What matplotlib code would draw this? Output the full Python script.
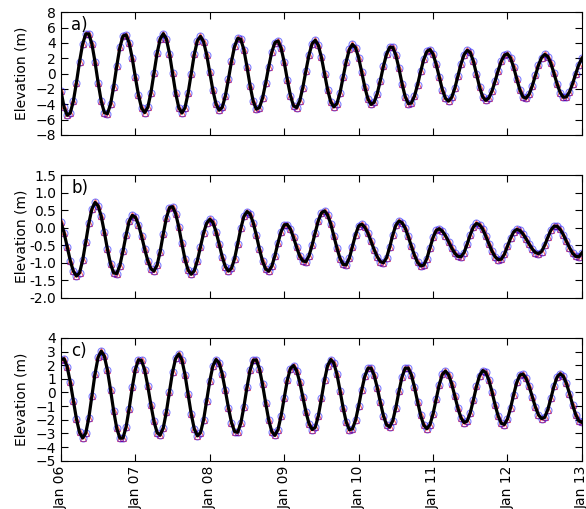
import numpy as np
import pandas as pd
import matplotlib
matplotlib.use("Agg")
import matplotlib.pyplot as plt
import matplotlib.dates as mdates

# hourly elevations (m), Jan 06 00:00 -> Jan 13 00:00
elev_a = [
    -2.23, -4.37, -5.44, -5.16, -3.61, -1.17, 1.55, 3.86, 5.18, 5.17, 3.83, 1.49,
    -1.23, -3.63, -5.10, -5.23, -4.00, -1.72, 0.99, 3.41, 4.89, 5.05, 3.99, 1.99,
    -0.48, -2.82, -4.50, -5.10, -4.41, -2.53, 0.05, 2.63, 4.51, 5.20, 4.51, 2.61,
    0.03, -2.56, -4.46, -5.15, -4.46, -2.57, -0.02, 2.50, 4.29, 4.85, 4.14, 2.44,
    0.15, -2.18, -3.96, -4.78, -4.42, -2.96, -0.77, 1.60, 3.56, 4.60, 4.46, 3.10,
    0.87, -1.59, -3.62, -4.64, -4.44, -3.22, -1.29, 0.89, 2.82, 4.04, 4.25, 3.32,
    1.48, -0.79, -2.87, -4.21, -4.45, -3.58, -1.82, 0.37, 2.45, 3.90, 4.35, 3.69,
    2.11, 0.00, -2.11, -3.69, -4.35, -3.91, -2.50, -0.49, 1.57, 3.14, 3.80, 3.38,
    2.07, 0.18, -1.79, -3.32, -4.03, -3.75, -2.62, -0.91, 0.96, 2.53, 3.43, 3.42,
    2.41, 0.67, -1.32, -3.00, -3.91, -3.85, -2.95, -1.47, 0.27, 1.84, 2.88, 3.13,
    2.53, 1.21, -0.48, -2.11, -3.24, -3.60, -3.11, -1.94, -0.36, 1.24, 2.47, 3.03,
    2.75, 1.61, -0.05, -1.76, -3.03, -3.50, -3.18, -2.29, -1.01, 0.39, 1.61, 2.39,
    2.58, 2.02, 0.81, -0.71, -2.13, -3.05, -3.22, -2.68, -1.60, -0.23, 1.10, 2.09,
    2.50, 2.22, 1.32, 0.03, -1.36, -2.49, -3.09, -3.04, -2.40, -1.32, -0.04, 1.16,
    2.00,
]

elev_b = [
    0.16, -0.14, -0.54, -0.94, -1.24, -1.38, -1.29, -0.93, -0.41, 0.13, 0.54, 0.72,
    0.62, 0.32, -0.13, -0.62, -1.04, -1.29, -1.31, -1.08, -0.67, -0.21, 0.18, 0.35,
    0.30, 0.09, -0.24, -0.61, -0.94, -1.17, -1.24, -1.07, -0.68, -0.18, 0.28, 0.57,
    0.60, 0.40, 0.02, -0.45, -0.90, -1.21, -1.33, -1.23, -0.94, -0.55, -0.15, 0.13,
    0.24, 0.15, -0.11, -0.46, -0.83, -1.11, -1.24, -1.16, -0.88, -0.46, -0.02, 0.32,
    0.46, 0.39, 0.14, -0.21, -0.61, -0.95, -1.18, -1.24, -1.10, -0.80, -0.43, -0.11,
    0.08, 0.09, -0.04, -0.28, -0.56, -0.81, -0.95, -0.97, -0.80, -0.50, -0.14, 0.20,
    0.42, 0.48, 0.36, 0.11, -0.23, -0.58, -0.88, -1.05, -1.06, -0.87, -0.54, -0.20,
    0.05, 0.10, 0.01, -0.16, -0.39, -0.63, -0.83, -0.97, -1.00, -0.86, -0.56, -0.21,
    0.07, 0.19, 0.14, -0.01, -0.25, -0.53, -0.79, -0.99, -1.09, -1.07, -0.88, -0.58,
    -0.28, -0.08, -0.03, -0.10, -0.23, -0.40, -0.58, -0.73, -0.82, -0.83, -0.71, -0.47,
    -0.20, 0.02, 0.12, 0.08, -0.04, -0.24, -0.46, -0.67, -0.83, -0.91, -0.90, -0.76,
    -0.53, -0.30, -0.12, -0.05, -0.08, -0.18, -0.32, -0.47, -0.61, -0.71, -0.74, -0.68,
    -0.50, -0.28, -0.07, 0.04, 0.04, -0.05, -0.20, -0.39, -0.57, -0.73, -0.82, -0.83,
    -0.72,
]

elev_c = [
    2.41, 2.48, 1.89, 0.77, -0.61, -1.95, -2.93, -3.34, -2.98, -1.84, -0.23, 1.39,
    2.59, 3.03, 2.66, 1.63, 0.18, -1.35, -2.63, -3.35, -3.34, -2.54, -1.19, 0.37,
    1.69, 2.40, 2.35, 1.65, 0.48, -0.89, -2.12, -2.94, -3.13, -2.60, -1.43, 0.07,
    1.51, 2.51, 2.83, 2.39, 1.32, -0.11, -1.56, -2.68, -3.18, -2.95, -2.01, -0.61,
    0.84, 1.95, 2.42, 2.17, 1.36, 0.17, -1.11, -2.21, -2.87, -2.92, -2.26, -1.04,
    0.39, 1.64, 2.37, 2.39, 1.74, 0.61, -0.75, -2.01, -2.88, -3.15, -2.72, -1.70,
    -0.38, 0.90, 1.76, 1.98, 1.60, 0.77, -0.32, -1.42, -2.29, -2.72, -2.56, -1.72,
    -0.44, 0.92, 1.97, 2.42, 2.16, 1.34, 0.14, -1.13, -2.17, -2.73, -2.67, -2.04,
    -0.99, 0.19, 1.20, 1.78, 1.79, 1.27, 0.36, -0.72, -1.71, -2.37, -2.53, -2.08,
    -1.11, 0.08, 1.15, 1.78, 1.79, 1.29, 0.40, -0.67, -1.68, -2.40, -2.66, -2.37,
    -1.57, -0.49, 0.58, 1.33, 1.57, 1.30, 0.65, -0.24, -1.14, -1.86, -2.21, -2.10,
    -1.49, -0.56, 0.44, 1.24, 1.61, 1.47, 0.91, 0.06, -0.90, -1.73, -2.26, -2.35,
    -1.94, -1.13, -0.15, 0.74, 1.28, 1.35, 1.03, 0.44, -0.32, -1.07, -1.64, -1.92,
    -1.82, -1.26, -0.42, 0.47, 1.13, 1.38, 1.19, 0.67, -0.08, -0.90, -1.62, -2.08,
    -2.19,
]

panel_labels = ["a)", "b)", "c)"]
ylims = [(-8, 8), (-2.0, 1.5), (-5, 4)]
yticks = [np.arange(-8, 9, 2), np.arange(-2.0, 1.51, 0.5), np.arange(-5, 5, 1)]

times = pd.date_range("2014-01-06 00:00", "2014-01-13 00:00", freq="h")

plt.rcParams["xtick.direction"] = "in"
plt.rcParams["ytick.direction"] = "in"
plt.rcParams["xtick.top"] = True
plt.rcParams["ytick.right"] = True
plt.rcParams["font.size"] = 10

fig = plt.figure(figsize=(5.86, 5.09), dpi=100)
tops = [0.976, 0.656, 0.336]
h = 0.241

for i, elev in enumerate([elev_a, elev_b, elev_c]):
    ax = fig.add_axes([0.104, tops[i] - h, 0.889, h])
    ax.plot(times, elev, ls="none", marker="^", ms=5, mfc="none",
            mec="red", mew=0.8, alpha=0.6)
    ax.plot(times, elev, ls="none", marker="o", ms=5, mfc="none",
            mec="blue", mew=0.8, alpha=0.5)
    ax.plot(times, elev, color="black", lw=2.3)
    ax.set_xlim(times[0], times[-1])
    ax.set_ylim(*ylims[i])
    ax.set_yticks(yticks[i])
    if i == 1:
        ax.yaxis.set_major_formatter(matplotlib.ticker.FormatStrFormatter("%.1f"))
    ax.set_ylabel("Elevation (m)")
    ax.yaxis.set_label_coords(-0.062, 0.5)
    ax.text(0.02, 0.97, panel_labels[i], transform=ax.transAxes,
            va="top", ha="left", fontsize=12)
    ax.xaxis.set_major_locator(mdates.DayLocator())
    ax.xaxis.set_major_formatter(mdates.DateFormatter("%b %d"))
    ax.tick_params(length=5, width=0.8)
    if i < 2:
        ax.set_xticklabels([])
    else:
        plt.setp(ax.get_xticklabels(), rotation=90)

fig.savefig("out.png", dpi=100)
